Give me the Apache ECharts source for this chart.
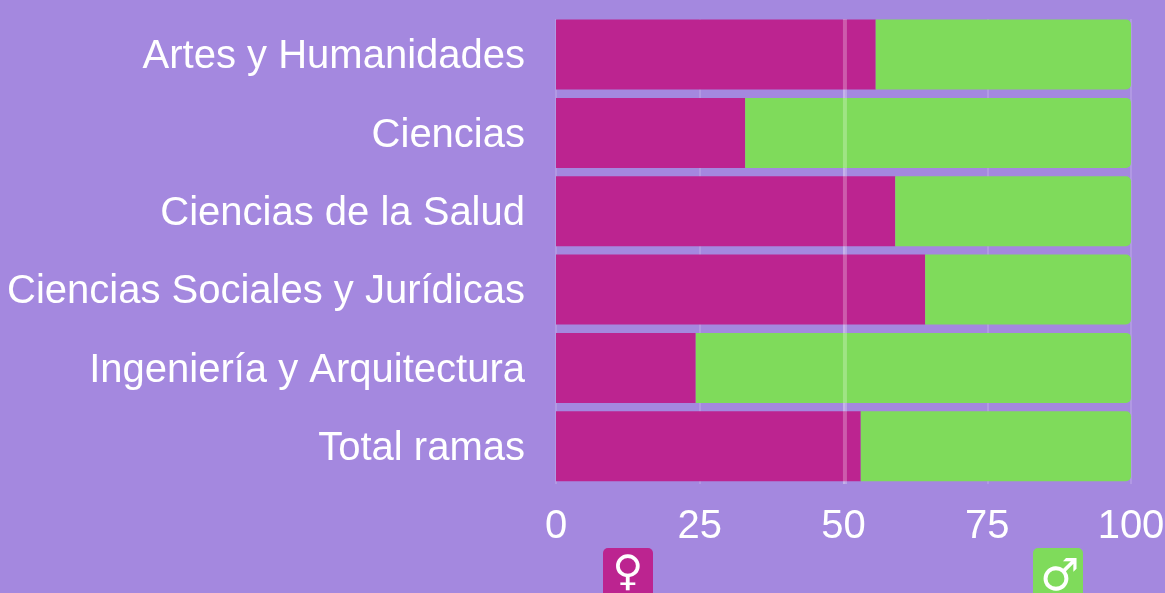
<!DOCTYPE html>
<html>
<head>
<meta charset="utf-8">
<style>
  html, body { margin: 0; padding: 0; background: #a488df; overflow: hidden; }
  #container { width: 1165px; height: 593px; }
</style>
<script src="https://cdn.jsdelivr.net/npm/echarts@6/dist/echarts.min.js"></script>
</head>
<body>
<div id="container"></div>
<script>
var categories = [
  "Artes y Humanidades",
  "Ciencias",
  "Ciencias de la Salud",
  "Ciencias Sociales y Jurídicas",
  "Ingeniería y Arquitectura",
  "Total ramas"
];
var mujeres = [55.6, 32.9, 59, 64.2, 24.3, 53];
var hombres = [44.4, 67.1, 41, 35.8, 75.7, 47];
var referencia = [[50.25, 0], [50.25, 1]];

var dom = document.getElementById("container");
var myChart = echarts.init(dom, null, { renderer: "canvas" });

var font = "Liberation Sans";

function icon(left, color, glyph, size, dx, dy) {
  return {
    type: "group",
    left: left,
    top: 548,
    children: [
      { type: "rect", shape: { x: 0, y: 0, width: 50, height: 60, r: 5 }, style: { fill: color } },
      {
        type: "text",
        x: 25 + dx,
        y: 25 + dy,
        style: {
          text: glyph,
          fill: "#fff",
          font: "bold " + size + "px 'DejaVu Sans'",
          align: "center",
          verticalAlign: "middle"
        }
      }
    ]
  };
}

var option = {
  backgroundColor: "#a488df",
  animation: false,
  grid: [
    // bars
    { left: 556, right: 34, top: 15.4, height: 470, outerBoundsMode: "none" },
    // gridlines and axis labels
    { left: 556, right: 34, top: 19, height: 465, outerBoundsMode: "none" },
    // category labels, they sit a little lower than the bars
    { left: 556, right: 34, top: 18, height: 470, outerBoundsMode: "none" }
  ],
  xAxis: [
    {
      type: "value",
      gridIndex: 0,
      min: 0,
      max: 100,
      show: false
    },
    {
      type: "value",
      gridIndex: 1,
      min: 0,
      max: 100,
      interval: 25,
      axisLine: { show: false },
      axisTick: { show: false },
      axisLabel: {
        color: "#fff",
        fontFamily: font,
        fontSize: 40,
        margin: 23,
        hideOverlap: false
      },
      splitLine: {
        show: true,
        lineStyle: { color: "rgba(255,255,255,0.15)", width: 2 }
      }
    },
    {
      type: "value",
      gridIndex: 2,
      min: 0,
      max: 100,
      show: false
    }
  ],
  yAxis: [
    {
      type: "category",
      gridIndex: 0,
      inverse: true,
      data: categories,
      show: false
    },
    {
      type: "value",
      gridIndex: 1,
      min: 0,
      max: 1,
      show: false
    },
    {
      type: "category",
      gridIndex: 2,
      inverse: true,
      data: categories,
      axisLine: { show: false },
      axisTick: { show: false },
      axisLabel: {
        color: "#fff",
        fontFamily: font,
        fontSize: 40,
        margin: 31
      }
    }
  ],
  series: [
    {
      name: "Mujeres",
      type: "bar",
      stack: "total",
      barWidth: 70,
      data: mujeres,
      z: 2,
      itemStyle: { color: "#bc2490" }
    },
    {
      name: "Hombres",
      type: "bar",
      stack: "total",
      barWidth: 70,
      data: hombres,
      z: 2,
      itemStyle: { color: "#7fdb5b", borderRadius: [0, 5, 5, 0] }
    },
    {
      name: "50%",
      type: "line",
      xAxisIndex: 1,
      yAxisIndex: 1,
      data: referencia,
      symbol: "none",
      z: 5,
      lineStyle: { color: "rgba(255,255,255,0.25)", width: 4 }
    }
  ],
  graphic: [
    icon(603, "#bc2490", "♀", 42, 0, 1),
    icon(1033, "#7fdb5b", "♂", 44, 2, 6)
  ]
};

if (option && typeof option === "object") {
  myChart.setOption(option);
}

window.addEventListener("resize", myChart.resize);
</script>
</body>
</html>
